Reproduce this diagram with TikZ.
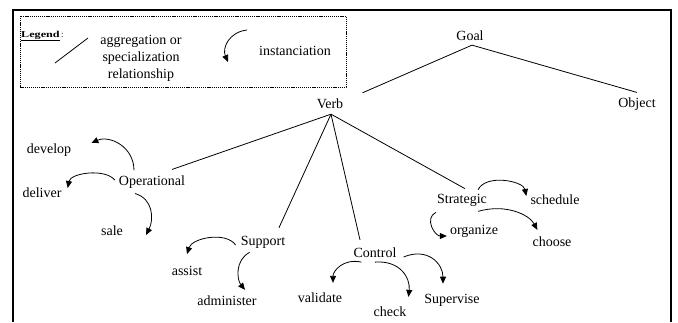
\documentclass[tikz,border=0pt]{standalone}
\usepackage{fontspec}
\usepackage{graphicx}
\setmainfont{Liberation Serif}
\usetikzlibrary{arrows.meta,calc}

\begin{document}
\begin{tikzpicture}[x=1pt,y=-1pt,
  lbl/.style={inner sep=0pt,font=\fontsize{14}{17}\selectfont},
  rel/.style={line width=0.8pt},
  inst/.style={line width=0.8pt,-{Triangle[length=7pt,width=6pt]}},
]
\useasboundingbox (0,0) rectangle (678,322);

% outer frame, open at the bottom
\draw[line width=1.2pt] (13,322) -- (13,10) -- (671,10) -- (671,322);

% ---------- legend ----------
\draw[line width=0.6pt,dash pattern=on 1.2pt off 0.9pt] (20,16) rectangle (346,87);
\node[inner sep=0pt,anchor=base west,font=\fontsize{9}{11}\selectfont] (leg) at (21,37)
  {\scalebox{1.35}[1]{\textbf{\underline{Legend}}}\,:};
\draw[rel] (55,63) -- (88,38);
\node[lbl,align=center] (aggtxt) at (141,58) {aggregation or\\specialization\\relationship};
\draw[inst] (247,30) .. controls +(-18,2) and +(-6,-14) .. (228,62);
\node[lbl] (insttxt) at (295,51) {instanciation};

% ---------- tree ----------
\node[lbl] (goal) at (470,36) {Goal};
\node[lbl] (verb) at (330,104) {Verb};
\node[lbl] (object) at (637,104) {Object};

\node[lbl] (op) at (152,182) {Operational};
\node[lbl] (sup) at (263,242) {Support};
\node[lbl] (ctl) at (375,253) {Control};
\node[lbl] (str) at (462,200) {Strategic};

\node[lbl] (dev) at (49,150) {develop};
\node[lbl] (del) at (42,193) {deliver};
\node[lbl] (sale) at (112,231) {sale};

\node[lbl] (as) at (187,271) {assist};
\node[lbl] (adm) at (227,301) {administer};

\node[lbl] (val) at (320,298) {validate};
\node[lbl] (chk) at (390,312) {check};
\node[lbl] (sv) at (452,300) {Supervise};

\node[lbl] (sch) at (555,200) {schedule};
\node[lbl] (org) at (474,231) {organize};
\node[lbl] (cho) at (552,242) {choose};

% aggregation / specialization links
\draw[rel] ($(goal.south)+(2,4)$) -- ($(verb.north east)+(19,-6)$);
\draw[rel] ($(goal.south)+(2,4)$) -- ($(object.north)+(0,-5)$);
\draw[rel] ($(verb.south)+(1,5)$) -- ($(op.north)+(20,-6)$);
\draw[rel] ($(verb.south)+(1,5)$) -- ($(sup.north)+(16,-8)$);
\draw[rel] ($(verb.south)+(1,5)$) -- ($(ctl.north)+(-15,-8)$);
\draw[rel] ($(verb.south)+(1,5)$) -- ($(str.north)+(3,-5)$);

% instanciation links
\draw[inst] ($(op.north)+(-18,-5)$) .. controls +(0,-24) and +(18,-8) .. ($(dev.east)+(20,-7)$);
\draw[inst] ($(op.west)+(-4,-2)$) .. controls +(-10,-12) and +(3,-15) .. ($(del.east)+(6,-5)$);
\draw[inst] ($(op.south)+(-17,5)$) .. controls +(18,5) and +(8,-16) .. ($(sale.east)+(23,4)$);

\draw[inst] ($(sup.west)+(-5,3)$) .. controls +(-10,-14) and +(5,-16) .. ($(as.north)+(0,-12)$);
\draw[inst] ($(sup.south west)+(9,4)$) .. controls +(-15,8) and +(-8,-10) .. ($(adm.north)+(18,-6)$);

\draw[inst] ($(ctl.south west)+(8,4)$) .. controls +(-18,-4) and +(0,-12) .. ($(val.north)+(13,-10)$);
\draw[inst] ($(ctl.south)+(0,4)$) .. controls +(24,-2) and +(2,-20) .. ($(chk.north east)+(2,-10)$);
\draw[inst] ($(ctl.east)+(7,4)$) .. controls +(24,-10) and +(0,-20) .. ($(sv.north)+(-9,-10)$);

\draw[inst] ($(str.north east)+(-9,-4)$) .. controls +(8,-16) and +(-3,-15) .. ($(sch.west)+(-4,-4)$);
\draw[inst] ($(str.south east)+(-9,5)$) .. controls +(28,-8) and +(-8,-15) .. ($(cho.north west)+(5,-7)$);
\draw[inst] ($(str.south west)+(-1,6)$) .. controls +(-12,6) and +(-12,0) .. ($(org.west)+(-3,5)$);

\end{tikzpicture}
\end{document}
